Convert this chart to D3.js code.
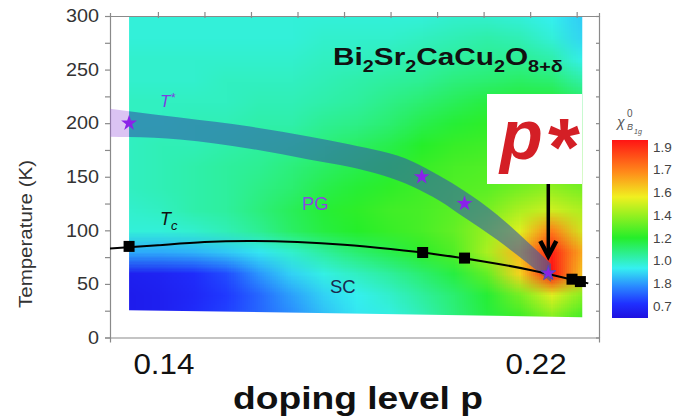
<!DOCTYPE html>
<html>
<head>
<meta charset="utf-8">
<script src="https://cdn.jsdelivr.net/npm/d3@7"></script>
<style>
  html, body { margin: 0; padding: 0; background: #fff; overflow: hidden; }
  svg { display: block; font-family: "Liberation Sans", Arial, Helvetica, sans-serif; }
</style>
</head>
<body>
<svg id="chart" width="674" height="420"></svg>
<script>
// ---- axes ----
const pRange = [0.1297, 0.2348];          // doping span of the frame
const tRange = [0, 300];                  // temperature span (K)
const yTicks = d3.range(0, 301, 25);
const pTicks = [0.14, 0.15, 0.16, 0.17, 0.18, 0.19, 0.20, 0.21, 0.22, 0.23];
const xTickLabels = [0.14, 0.22];

// ---- B1g susceptibility map (relative position on the colour scale, 0 = bottom, 1 = top) ----
const heatP = [0.1338, 0.2312];           // doping extent of the measured map
const heatBottomT = [25.5, 19];           // lowest temperature at each end
const mapP = [0.1335, 0.1405, 0.1475, 0.1545, 0.1615, 0.1685, 0.1755, 0.1825,
              0.1895, 0.1965, 0.2035, 0.2105, 0.2175, 0.2245, 0.2315];
const mapT = [300, 280, 260, 240, 220, 200, 180, 160, 140, 120, 100, 80, 60, 40, 20];
const mapChi = [
  [0.30,0.30,0.30,0.30,0.30,0.30,0.30,0.30,0.30,0.30,0.31,0.31,0.30,0.28,0.24],
  [0.30,0.30,0.30,0.30,0.30,0.30,0.31,0.31,0.31,0.32,0.33,0.34,0.33,0.30,0.25],
  [0.31,0.31,0.31,0.31,0.31,0.31,0.32,0.32,0.33,0.34,0.35,0.36,0.36,0.34,0.28],
  [0.31,0.31,0.31,0.32,0.32,0.32,0.33,0.34,0.35,0.36,0.38,0.39,0.40,0.39,0.34],
  [0.32,0.32,0.32,0.32,0.33,0.33,0.34,0.35,0.37,0.39,0.41,0.43,0.44,0.44,0.40],
  [0.32,0.32,0.33,0.33,0.34,0.34,0.36,0.37,0.39,0.42,0.44,0.46,0.47,0.47,0.44],
  [0.32,0.33,0.33,0.34,0.35,0.36,0.38,0.40,0.42,0.45,0.47,0.48,0.49,0.50,0.47],
  [0.32,0.33,0.34,0.35,0.36,0.38,0.40,0.42,0.44,0.47,0.49,0.50,0.51,0.53,0.50],
  [0.32,0.33,0.34,0.35,0.37,0.39,0.42,0.44,0.46,0.48,0.50,0.51,0.54,0.57,0.54],
  [0.31,0.32,0.34,0.35,0.38,0.41,0.44,0.46,0.48,0.49,0.51,0.54,0.60,0.64,0.60],
  [0.30,0.30,0.31,0.33,0.36,0.40,0.43,0.45,0.47,0.49,0.52,0.58,0.66,0.84,0.64],
  [0.21,0.21,0.22,0.24,0.27,0.31,0.35,0.39,0.42,0.46,0.50,0.60,0.76,0.98,0.76],
  [0.04,0.05,0.07,0.11,0.19,0.25,0.29,0.32,0.35,0.39,0.43,0.52,0.72,1.00,0.72],
  [0.03,0.04,0.06,0.09,0.14,0.20,0.25,0.28,0.31,0.35,0.39,0.44,0.54,0.66,0.55],
  [0.03,0.04,0.07,0.10,0.14,0.18,0.23,0.27,0.29,0.33,0.38,0.43,0.48,0.56,0.48]
];

// ---- superconducting dome Tc(p) ----
const tcCurveP = [0.1297, 0.14, 0.15, 0.16, 0.17, 0.18, 0.19, 0.20, 0.21, 0.22, 0.2325];
const tcCurveT = [83, 86, 89, 90, 89, 86.5, 82.5, 77.5, 71, 63, 50.5];
const tcP = [0.1338, 0.1969, 0.2059, 0.2290, 0.2308];
const tcT = [85, 79.3, 74.1, 54.4, 52.2];

// ---- pseudogap T*(p) ----
const tStarP = [0.1338, 0.1967, 0.2059];
const tStarT = [200, 150, 125];
const bandP    = [0.1297, 0.1447, 0.1598, 0.1727, 0.1813, 0.1948, 0.2006, 0.2058, 0.2129, 0.2194, 0.2245];
const bandHigh = [213.4, 205.2, 196.8, 187.3, 180.0, 164.1, 150.6, 136.9, 114.5, 89.4, 68.7];
const bandLow  = [187.4, 184.8, 176.2, 165.9, 159.0, 140.7, 127.4, 112.1, 91.1, 69.6, 51.9];

// ---- critical doping p* ----
const pCrit = [0.2239];
const tCrit = [60];

// ---- colour bar ----
const cbLabels = ["1.9", "1.7", "1.6", "1.4", "1.2", "1.0", "1.8", "0.7"];
const cbStopPos = [0, 0.08, 0.18, 0.28, 0.45, 0.58, 0.68, 0.82, 1];
const cbStopCol = ["#1e10e0", "#1f30ff", "#2a8cff", "#35f0f0", "#25ee2a",
                   "#98f020", "#f0f020", "#ff8a1a", "#ff1414"];

// =================================================================
const svg = d3.select("#chart");
const x = d3.scaleLinear().domain(pRange).range([110, 599]);
const y = d3.scaleLinear().domain(tRange).range([337.5, 16]);
const colour = d3.scaleLinear().domain(cbStopPos).range(cbStopCol).interpolate(d3.interpolateRgb);

const defs = svg.append("defs");
const heatPoly = [
  [x(heatP[0]), y(tRange[1])], [x(heatP[1]), y(tRange[1])],
  [x(heatP[1]), y(heatBottomT[1])], [x(heatP[0]), y(heatBottomT[0])]
];
defs.append("clipPath").attr("id", "heatClip")
  .append("polygon").attr("points", heatPoly.map(d => d.join(",")).join(" "));
defs.append("clipPath").attr("id", "stubClip")
  .append("rect").attr("x", x(pRange[0])).attr("y", 0)
  .attr("width", x(heatP[0]) - x(pRange[0])).attr("height", 420);

// susceptibility map: one pixel per grid node, smoothed by the browser when scaled
const cols = mapP.length, rows = mapT.length;
const cv = document.createElement("canvas");
cv.width = cols; cv.height = rows;
const ctx = cv.getContext("2d");
const img = ctx.createImageData(cols, rows);
mapChi.forEach((row, i) => row.forEach((v, j) => {
  const c = d3.rgb(colour(v));
  const k = (i * cols + j) * 4;
  img.data[k] = c.r; img.data[k + 1] = c.g; img.data[k + 2] = c.b; img.data[k + 3] = 255;
}));
ctx.putImageData(img, 0, 0);
const dp = mapP[1] - mapP[0], dT = mapT[0] - mapT[1];
const ix0 = x(mapP[0] - dp / 2), ix1 = x(mapP[cols - 1] + dp / 2);
const iy0 = y(mapT[0] + dT / 2), iy1 = y(mapT[rows - 1] - dT / 2);
svg.append("g").attr("clip-path", "url(#heatClip)")
  .append("image")
  .attr("href", cv.toDataURL())
  .attr("x", ix0).attr("y", iy0)
  .attr("width", ix1 - ix0).attr("height", iy1 - iy0)
  .attr("preserveAspectRatio", "none")
  .style("image-rendering", "auto");

// ---- axes ----
function styleAxis(g) {
  g.selectAll("path.domain").attr("stroke", "#8a8a8a").attr("stroke-width", 1.2);
  g.selectAll(".tick line").attr("stroke", "#8a8a8a").attr("stroke-width", 1.2);
  g.attr("font-family", null).attr("font-size", null);
}
svg.append("g").attr("transform", `translate(0,${y(0)})`)
  .call(d3.axisBottom(x).tickValues([]).tickSizeOuter(5)).call(styleAxis);
svg.append("g").attr("transform", `translate(0,${y(300)})`)
  .call(d3.axisTop(x).tickValues(pTicks).tickSize(4).tickSizeOuter(3).tickFormat(""))
  .call(styleAxis)
  .selectAll(".tick line").attr("y1", 2);
svg.append("g").attr("transform", `translate(${x(pRange[1])},0)`)
  .call(d3.axisRight(y).tickValues(yTicks).tickSizeInner(-3).tickSizeOuter(0).tickFormat(""))
  .call(styleAxis);
const yAx = svg.append("g").attr("transform", `translate(${x(pRange[0])},0)`)
  .call(d3.axisLeft(y).tickValues(yTicks).tickSize(5).tickPadding(6)
    .tickFormat(d => d % 50 === 0 ? d : ""))
  .call(styleAxis);
yAx.selectAll("text").attr("fill", "#333").style("font-size", "18px")
  .filter(function () { return this.textContent.length > 0; })
  .attr("textLength", function () { return this.textContent.length * 11; })
  .attr("lengthAdjust", "spacingAndGlyphs");

svg.append("text")
  .attr("transform", `translate(31.5,234) rotate(-90)`)
  .attr("text-anchor", "middle").attr("fill", "#333")
  .style("font-size", "19px")
  .attr("textLength", 148).attr("lengthAdjust", "spacingAndGlyphs")
  .text("Temperature (K)");

svg.append("g").selectAll("text").data(xTickLabels).join("text")
  .attr("x", d => x(d) + 6).attr("y", 374)
  .attr("text-anchor", "middle").attr("fill", "#111")
  .style("font-size", "29px")
  .attr("textLength", 61).attr("lengthAdjust", "spacingAndGlyphs")
  .text(d => d.toFixed(2));

svg.append("text")
  .attr("x", 358).attr("y", 409).attr("text-anchor", "middle")
  .attr("fill", "#111").style("font-size", "32px").style("font-weight", "bold")
  .attr("textLength", 250).attr("lengthAdjust", "spacingAndGlyphs")
  .text("doping level p");

// ---- T* band ----
const band = d3.area()
  .x((d, i) => x(bandP[i]))
  .y0((d, i) => y(bandLow[i]))
  .y1((d, i) => y(bandHigh[i]))
  .curve(d3.curveMonotoneX);
svg.append("path").datum(bandP).attr("d", band)
  .attr("clip-path", "url(#stubClip)")
  .attr("fill", "#a060e0").attr("fill-opacity", 0.38);
svg.append("path").datum(bandP).attr("d", band)
  .attr("clip-path", "url(#heatClip)")
  .attr("fill", "rgb(50,90,170)").attr("fill-opacity", 0.6);

// ---- Tc line and points ----
svg.append("path")
  .datum(tcCurveP.map((p, i) => [p, tcCurveT[i]]))
  .attr("d", d3.line().x(d => x(d[0])).y(d => y(d[1])).curve(d3.curveNatural))
  .attr("fill", "none").attr("stroke", "#000").attr("stroke-width", 2);
svg.append("g").selectAll("path").data(tcP).join("path")
  .attr("transform", (d, i) => `translate(${x(d)},${y(tcT[i])})`)
  .attr("d", d3.symbol(d3.symbolSquare, 121)())
  .attr("fill", "#000");

// ---- T* stars ----
svg.append("g").selectAll("path").data(tStarP).join("path")
  .attr("transform", (d, i) => `translate(${x(d)},${y(tStarT[i])})`)
  .attr("d", d3.symbol(d3.symbolStar, 78)())
  .attr("fill", "#8a22e8");

// ---- region labels ----
const tStarLbl = svg.append("text").attr("x", 160).attr("y", 106.5)
  .attr("fill", "#7b3fe0").style("font-size", "17px").style("font-style", "italic");
tStarLbl.append("tspan").text("T");
tStarLbl.append("tspan").attr("dy", -5).style("font-size", "12px").text("*");

const tcLbl = svg.append("text").attr("x", 160).attr("y", 225)
  .attr("fill", "#111").style("font-size", "18px").style("font-style", "italic");
tcLbl.append("tspan").text("T");
tcLbl.append("tspan").attr("dy", 5).style("font-size", "13px").text("c");

svg.append("text").attr("x", 302).attr("y", 210)
  .attr("fill", "#8a46e0").style("font-size", "18.5px").text("PG");
svg.append("text").attr("x", 330).attr("y", 293)
  .attr("fill", "#1a2850").style("font-size", "18.5px").text("SC");

// ---- compound name ----
const title = svg.append("text")
  .attr("transform", "translate(333,65) scale(1.24,1)")
  .attr("fill", "#111").style("font-weight", "bold").style("font-size", "24px");
[["Bi", false], ["2", true], ["Sr", false], ["2", true], ["CaCu", false], ["2", true],
 ["O", false], ["8+\u03b4", true]].forEach(([s, sub], i, arr) => {
  const prevSub = i > 0 && arr[i - 1][1];
  const t = title.append("tspan").text(s);
  if (sub) t.attr("dy", prevSub ? 0 : 7).style("font-size", "16px");
  else if (prevSub) t.attr("dy", -7);
});

// ---- p* call-out ----
svg.append("rect").attr("x", 487).attr("y", 94).attr("width", 95).attr("height", 90)
  .attr("fill", "#fff");
const pStar = svg.append("text").attr("x", 500).attr("y", 159)
  .attr("fill", "#d41f26").style("font-weight", "bold").style("font-style", "italic")
  .style("font-size", "70px");
pStar.append("tspan").text("p");
pStar.append("tspan").attr("dy", 16).attr("dx", 2).style("font-size", "82px").text("*");

svg.append("line")
  .attr("x1", x(pCrit[0])).attr("x2", x(pCrit[0]))
  .attr("y1", 184).attr("y2", 255)
  .attr("stroke", "#000").attr("stroke-width", 3.5);
svg.append("path")
  .attr("d", `M${x(pCrit[0]) - 8},${241}L${x(pCrit[0])},${256}L${x(pCrit[0]) + 8},${241}`)
  .attr("fill", "none").attr("stroke", "#000").attr("stroke-width", 4.5)
  .attr("stroke-linejoin", "miter");

svg.append("g").selectAll("path").data(pCrit).join("path")
  .attr("transform", (d, i) => `translate(${x(d)},${y(tCrit[i])})`)
  .attr("d", d3.symbol(d3.symbolStar, 70)())
  .attr("fill", "#8a22e8").attr("stroke", "#5050b0").attr("stroke-width", 1);

// ---- colour bar ----
const grad = defs.append("linearGradient").attr("id", "cbGrad")
  .attr("x1", 0).attr("y1", 1).attr("x2", 0).attr("y2", 0);
grad.selectAll("stop").data(cbStopPos).join("stop")
  .attr("offset", d => d).attr("stop-color", (d, i) => cbStopCol[i]);
svg.append("rect").attr("x", 612).attr("y", 140).attr("width", 36).attr("height", 178)
  .attr("fill", "url(#cbGrad)");
const cbY = d3.scalePoint().domain(cbLabels).range([147, 306]);
svg.append("g").selectAll("text").data(cbLabels).join("text")
  .attr("x", 653).attr("y", d => cbY(d)).attr("dy", "0.35em")
  .attr("fill", "#444").style("font-size", "13.5px")
  .text(d => d);

svg.append("text").attr("x", 617).attr("y", 127).attr("fill", "#555")
  .style("font-size", "14px").style("font-style", "italic").text("\u03c7");
svg.append("text").attr("x", 627).attr("y", 117).attr("fill", "#555")
  .style("font-size", "10px").text("0");
svg.append("text").attr("x", 627).attr("y", 130).attr("fill", "#555")
  .style("font-size", "9px").style("font-style", "italic").text("B");
svg.append("text").attr("x", 634).attr("y", 134).attr("fill", "#555")
  .style("font-size", "7px").style("font-style", "italic").text("1g");
</script>
</body>
</html>
